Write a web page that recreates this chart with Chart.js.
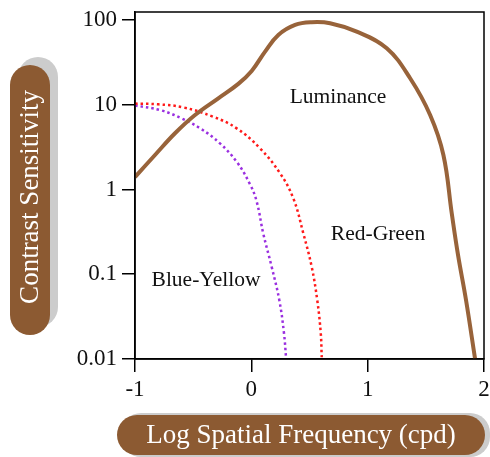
<!DOCTYPE html>
<html>
<head>
<meta charset="utf-8">
<script src="https://cdn.jsdelivr.net/npm/chart.js@4"></script>
<style>
  html, body { margin: 0; padding: 0; background: #fff; }
  #wrap { width: 490px; height: 457px; position: relative; }
</style>
</head>
<body>
<div id="wrap"><canvas id="csfChart"></canvas></div>
<script>
// Contrast sensitivity curves (x = log spatial frequency, y = sensitivity)
const lumX = [-1, -0.828, -0.656, -0.484, -0.284, -0.112, 0.003, 0.118, 0.232, 0.376, 0.519, 0.677, 0.906, 1.164, 1.365, 1.537, 1.651, 1.723, 1.777, 1.845, 1.923];
const lumY = [1.4, 2.55, 4.6, 7.55, 11.9, 17.6, 25, 42.3, 66.5, 87.3, 94, 91.5, 72.8, 46.3, 20.5, 7.55, 2.55, 0.52, 0.168, 0.05, 0.0101];

const rgX = [-1, -0.8, -0.585, -0.327, -0.126, 0.075, 0.247, 0.361, 0.447, 0.519, 0.567, 0.597, 0.605];
const rgY = [10.3, 10.1, 9.3, 7.2, 5.26, 3.05, 1.55, 0.785, 0.303, 0.122, 0.049, 0.02, 0.0105];

const byX = [-1, -0.78, -0.6, -0.44, -0.27, -0.126, -0.011, 0.046, 0.103, 0.175, 0.241, 0.281, 0.298];
const byY = [9.8, 8.6, 6.9, 5.26, 3.5, 2.12, 1.15, 0.72, 0.3, 0.122, 0.049, 0.02, 0.0105];

const xTicks = [-1, 0, 1, 2];
const yTicks = [0.01, 0.1, 1, 10, 100];
const yTickLabels = ['0.01', '0.1', '1', '10', '100'];

const curveLabels = [
    { text: 'Luminance', x: 338, y: 97 },
    { text: 'Red-Green', x: 378, y: 234 },
    { text: 'Blue-Yellow', x: 206, y: 280 }
];

const SERIF = '"Liberation Serif", "DejaVu Serif", serif';
const PILL = '#8c5a32';

function toPoints(xs, ys) {
    return xs.map((x, i) => ({ x: x, y: ys[i] }));
}

function roundRect(ctx, x, y, w, h, r) {
    ctx.beginPath();
    ctx.moveTo(x + r, y);
    ctx.lineTo(x + w - r, y);
    ctx.arcTo(x + w, y, x + w, y + r, r);
    ctx.lineTo(x + w, y + h - r);
    ctx.arcTo(x + w, y + h, x + w - r, y + h, r);
    ctx.lineTo(x + r, y + h);
    ctx.arcTo(x, y + h, x, y + h - r, r);
    ctx.lineTo(x, y + r);
    ctx.arcTo(x, y, x + r, y, r);
    ctx.closePath();
}

// axis titles in brown pills + frame + curve names
const decorPlugin = {
    id: 'decor',
    afterDraw(chart) {
        const ctx = chart.ctx;
        const area = chart.chartArea;
        ctx.save();

        // box around plot
        ctx.strokeStyle = '#000';
        ctx.lineWidth = 1.5;
        ctx.strokeRect(area.left, area.top, area.right - area.left, area.bottom - area.top);

        // y title pill
        ctx.fillStyle = '#cccccc';
        roundRect(ctx, 18, 57, 40, 270, 20);
        ctx.fill();
        ctx.fillStyle = PILL;
        roundRect(ctx, 10, 65, 40, 270, 20);
        ctx.fill();
        ctx.save();
        ctx.translate(31, 197);
        ctx.rotate(-Math.PI / 2);
        ctx.fillStyle = '#fff';
        ctx.font = '27px ' + SERIF;
        ctx.textAlign = 'center';
        ctx.textBaseline = 'middle';
        ctx.fillText('Contrast Sensitivity', 0, 0);
        ctx.restore();

        // x title pill
        ctx.fillStyle = '#cccccc';
        roundRect(ctx, 121, 413, 369, 44, 20);
        ctx.fill();
        ctx.fillStyle = PILL;
        roundRect(ctx, 117, 415, 368, 40, 20);
        ctx.fill();
        ctx.fillStyle = '#fff';
        ctx.font = '27px ' + SERIF;
        ctx.textAlign = 'center';
        ctx.textBaseline = 'middle';
        ctx.fillText('Log Spatial Frequency (cpd)', 301, 436);

        // curve names
        ctx.fillStyle = '#111';
        ctx.font = '21.5px ' + SERIF;
        curveLabels.forEach(l => ctx.fillText(l.text, l.x, l.y));

        ctx.restore();
    }
};

function initializeChart() {
    const ctx = document.getElementById('csfChart').getContext('2d');
    new Chart(ctx, {
        type: 'line',
        data: {
            datasets: [{
                label: 'Luminance',
                data: toPoints(lumX, lumY),
                borderColor: '#98633a',
                borderWidth: 4,
                pointRadius: 0,
                tension: 0.4
            }, {
                label: 'Red-Green',
                data: toPoints(rgX, rgY),
                borderColor: '#ff1a1a',
                borderWidth: 2.5,
                borderDash: [2.5, 3],
                pointRadius: 0,
                tension: 0.4
            }, {
                label: 'Blue-Yellow',
                data: toPoints(byX, byY),
                borderColor: '#9a2fe0',
                borderWidth: 2.5,
                borderDash: [2.5, 3],
                pointRadius: 0,
                tension: 0.4
            }]
        },
        options: {
            responsive: true,
            maintainAspectRatio: false,
            animation: false,
            layout: { padding: { top: 12, right: 6, left: 0, bottom: 0 } },
            plugins: {
                legend: { display: false },
                tooltip: { enabled: false }
            },
            scales: {
                x: {
                    type: 'linear',
                    min: -1,
                    max: 2,
                    afterBuildTicks: (scale) => { scale.ticks = xTicks.map(v => ({ value: v })); },
                    afterFit: (scale) => {
                        scale.height = 98;
                        scale.paddingLeft = 0;
                        scale.paddingRight = 0;
                    },
                    ticks: {
                        color: '#111',
                        font: { family: SERIF, size: 23 },
                        padding: 4,
                        maxRotation: 0,
                        callback: (v) => String(v)
                    },
                    grid: { drawOnChartArea: false, tickLength: 13, color: '#000', lineWidth: 1.5 },
                    border: { color: '#000', width: 1.5 }
                },
                y: {
                    type: 'logarithmic',
                    min: 0.01,
                    max: 124,
                    afterBuildTicks: (scale) => { scale.ticks = yTicks.map(v => ({ value: v })); },
                    afterFit: (scale) => {
                        scale.width = 135;
                        scale.paddingTop = 0;
                        scale.paddingBottom = 0;
                    },
                    ticks: {
                        color: '#111',
                        font: { family: SERIF, size: 23 },
                        padding: 5,
                        callback: (v) => yTickLabels[yTicks.indexOf(v)] ?? ''
                    },
                    grid: { drawOnChartArea: false, tickLength: 13, color: '#000', lineWidth: 1.5 },
                    border: { color: '#000', width: 1.5 }
                }
            }
        },
        plugins: [decorPlugin]
    });
}

document.addEventListener('DOMContentLoaded', initializeChart);
</script>
</body>
</html>
